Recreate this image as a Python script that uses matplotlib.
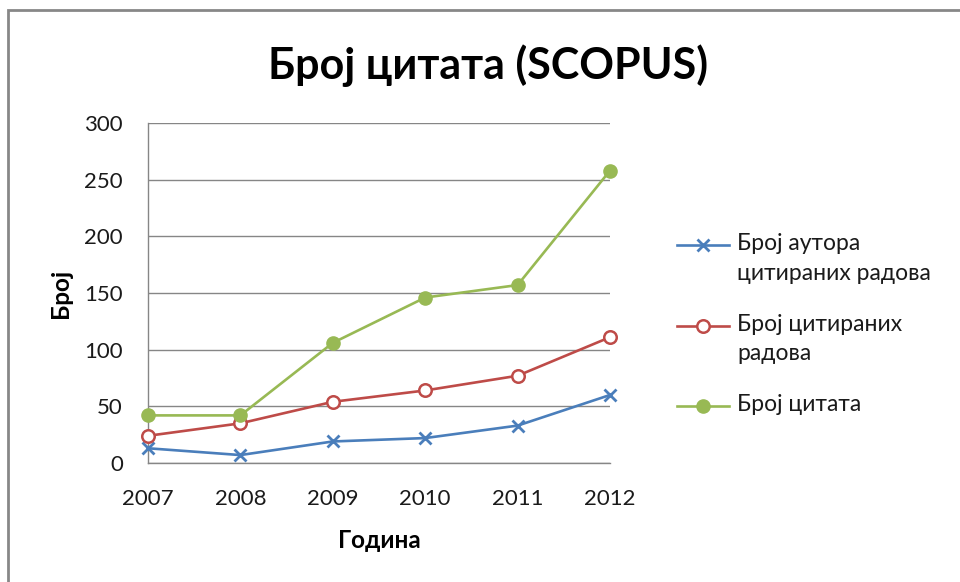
import matplotlib
matplotlib.use("Agg")
import matplotlib.pyplot as plt
from matplotlib.lines import Line2D
from matplotlib.patches import Rectangle

years = ["2007", "2008", "2009", "2010", "2011", "2012"]
authors = [13, 7, 19, 22, 33, 60]
papers = [24, 35, 54, 64, 77, 111]
citations = [42, 42, 106, 146, 157, 258]
labels = ["Број аутора\nцитираних радова", "Број цитираних\nрадова", "Број цитата"]
title = "Број цитата (SCOPUS)"
xlabel = "Година"
ylabel = "Број"
yticks = [0, 50, 100, 150, 200, 250, 300]

plt.rcParams['font.family'] = ['Lato', 'DejaVu Sans']

W, H = 960, 582
fig = plt.figure(figsize=(W / 100, H / 100), dpi=100)
fig.patch.set_facecolor("white")

def fx(px):
    return px / W

def fy(py):
    return 1 - py / H

# outer frame (cut off at right/bottom)
fig.add_artist(Rectangle((fx(8), fy(600)), 1.2, fy(10) - fy(600), transform=fig.transFigure,
                         fill=False, edgecolor="#878787", linewidth=2.0, clip_on=False))

left, right, top, bottom = 148, 610, 123, 463
ax = fig.add_axes([fx(left), fy(bottom), fx(right) - fx(left), fy(top) - fy(bottom)])

x = list(range(len(years)))
blue, red, green = "#4A7EBB", "#BE4B48", "#98B954"

ax.plot(x, authors, color=blue, lw=1.9, marker="x", ms=8, mew=2.0, clip_on=False, zorder=5)
ax.plot(x, papers, color=red, lw=1.9, marker="o", ms=9, mfc="white", mec=red, mew=1.8, clip_on=False, zorder=5)
ax.plot(x, citations, color=green, lw=1.9, marker="o", ms=9.5, mfc=green, mec=green, clip_on=False, zorder=5)

ax.set_xlim(0, len(years) - 1)
ax.set_ylim(0, 300)
ax.set_yticks(yticks)
ax.set_xticks(x)
ax.set_xticklabels(years)
ax.grid(axis="y", color="#868686", lw=1.0)
ax.set_axisbelow(True)
for s in ["top", "right"]:
    ax.spines[s].set_visible(False)
for s in ["left", "bottom"]:
    ax.spines[s].set_color("#868686")
    ax.spines[s].set_linewidth(1.0)
ax.tick_params(axis="y", length=0, pad=18, labelsize=16, labelcolor="#1a1a1a")
ax.tick_params(axis="x", length=0, pad=19, labelsize=16, labelcolor="#1a1a1a")

fig.text(fx(488), fy(66), title, ha="center", va="center", fontsize=31, fontweight="bold", color="black")
fig.text(fx(379), fy(541), xlabel, ha="center", va="center", fontsize=17.5, fontweight="bold", color="black")
fig.text(fx(60), fy(293), ylabel, ha="center", va="center", fontsize=17.5, fontweight="bold", rotation=90, color="black")

# legend (manual, Excel style: marker aligned with first text line)
leg = [(blue, dict(marker="x", ms=8, mew=2.0), 245),
       (red, dict(marker="o", ms=9, mfc="white", mew=1.8), 326),
       (green, dict(marker="o", ms=9.5, mfc=green), 406)]
for (c, mk, yy), lab in zip(leg, labels):
    fig.add_artist(Line2D([fx(677), fx(729)], [fy(yy), fy(yy)], transform=fig.transFigure,
                          color=c, lw=1.9))
    fig.add_artist(Line2D([fx(703)], [fy(yy)], transform=fig.transFigure, color=c, lw=0,
                          mec=c, **mk))
    fig.text(fx(737), fy(yy - 12), lab, ha="left", va="top", fontsize=16.5, color="#1a1a1a",
             linespacing=1.5)

fig.savefig("out.png", dpi=100, facecolor="white")
